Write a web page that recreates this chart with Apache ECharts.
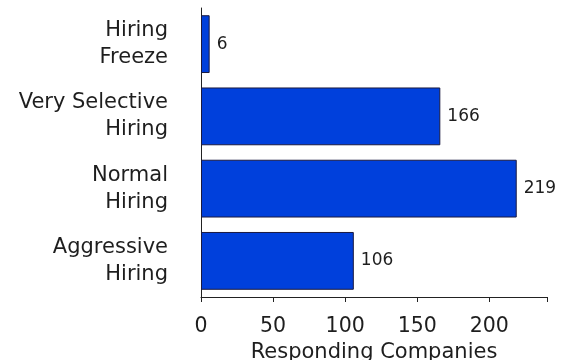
<!DOCTYPE html>
<html>
<head>
<meta charset="utf-8">
<script src="https://cdn.jsdelivr.net/npm/echarts@6/dist/echarts.min.js"></script>
<style>
  html, body { margin: 0; padding: 0; background: #fff; }
  #chart { width: 572px; height: 360px; }
</style>
</head>
<body>
<div id="chart"></div>
<script>
// Survey responses: hiring outlook by category
const categories = ['Hiring\nFreeze', 'Very Selective\nHiring', 'Normal\nHiring', 'Aggressive\nHiring'];
const companies = [6, 166, 219, 106];
const xTicks = [0, 50, 100, 150, 200];

const font = 'DejaVu Sans';
const textColor = '#1e1e1e';
const chart = echarts.init(document.getElementById('chart'));
chart.setOption({
  animation: false,
  backgroundColor: '#fff',
  grid: {
    left: 201, right: 25, top: 8, bottom: 63,
    containLabel: false, outerBoundsMode: 'none'
  },
  xAxis: {
    type: 'value',
    min: 0,
    max: 240,
    interval: 50,
    name: 'Responding Companies',
    nameLocation: 'middle',
    nameGap: 40,
    nameTextStyle: { fontFamily: font, fontSize: 21, color: textColor },
    axisLine: { show: true, lineStyle: { color: '#222', width: 1 } },
    axisTick: { show: true, length: 5, lineStyle: { color: '#222' } },
    axisLabel: {
      fontFamily: font, fontSize: 20.5, color: textColor, margin: 19,
      formatter: v => (xTicks.includes(v) ? String(v) : '')
    },
    splitLine: { show: false }
  },
  yAxis: {
    type: 'category',
    inverse: true,
    data: categories,
    axisLine: { show: true, lineStyle: { color: '#222', width: 1 } },
    axisTick: { show: false },
    axisLabel: {
      fontFamily: font, fontSize: 21, color: textColor, margin: 33,
      align: 'right', lineHeight: 27, padding: [4, 0, 0, 0]
    }
  },
  series: [{
    type: 'bar',
    data: companies,
    barCategoryGap: '20%',
    itemStyle: { color: '#0040dc', borderColor: '#1a1a40', borderWidth: 1 },
    label: {
      show: true,
      position: 'right',
      distance: 7,
      fontFamily: font,
      fontSize: 17,
      color: textColor
    }
  }]
});
</script>
</body>
</html>
